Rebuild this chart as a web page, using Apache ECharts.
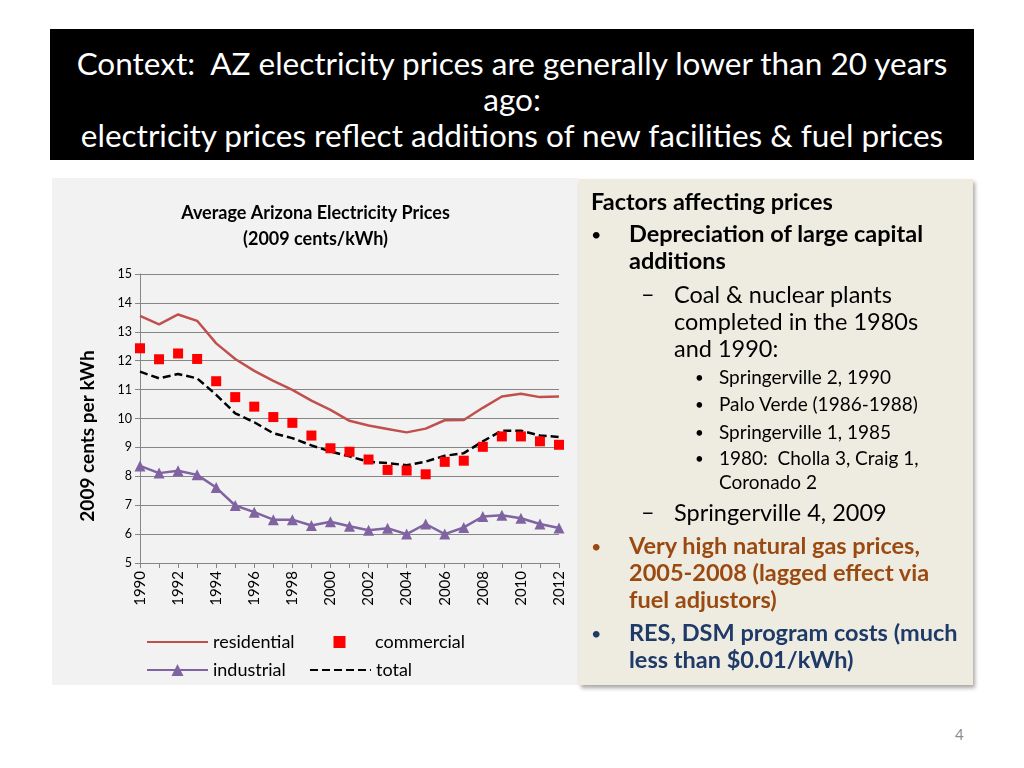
<!DOCTYPE html>
<html>
<head>
<meta charset="utf-8">
<script src="https://cdn.jsdelivr.net/npm/echarts@6/dist/echarts.min.js"></script>
<style>
  html, body { margin: 0; padding: 0; background: #fff; }
  body { width: 1024px; height: 768px; position: relative; overflow: hidden; font-family: Lato, "Open Sans", sans-serif; }
  #header {
    position: absolute; left: 50px; top: 29px; width: 924px; height: 131px;
    background: #000; color: #fff; text-align: center;
    font-size: 31.5px; line-height: 36px; box-sizing: border-box; padding-top: 16px;
  }
  #chart { position: absolute; left: 52px; top: 178px; width: 527px; height: 507px; background: #f2f2f2; }
  #panel {
    position: absolute; left: 579px; top: 179px; width: 394px; height: 506px;
    background: #eeece1; box-shadow: 2px 3px 4px rgba(0,0,0,0.35);
  }
  .t { position: absolute; white-space: nowrap; color: #000; }
  .b { font-weight: bold; }
  .big { font-size: 23.5px; line-height: 27px; }
  .small { font-size: 19px; line-height: 24px; }
  .dot { font-size: 18px; }
  .sdot { font-size: 15px; }
  .orange { color: #9a4a10; }
  .blue { color: #1f3a68; }
  #page { position: absolute; left: 955px; top: 725px; font-size: 15px; color: #8c8c8c; }
</style>
</head>
<body>
<div id="header">Context:&nbsp; AZ electricity prices are generally lower than 20 years<br>ago:<br>electricity prices reflect additions of new facilities &amp; fuel prices</div>

<div id="chart"></div>

<div id="panel"></div>
<div class="t b big" style="left:591px; top:188px;">Factors affecting prices</div>
<div class="t big" style="left:591px; top:219px;"><span class="dot">•</span></div>
<div class="t b big" style="left:629px; top:220px;">Depreciation of large capital<br>additions</div>
<div class="t big" style="left:641px; top:280px;">–</div>
<div class="t big" style="left:674px; top:281px;">Coal &amp; nuclear plants<br>completed in the 1980s<br>and 1990:</div>
<div class="t small" style="left:695px; top:364px;"><span class="sdot">•</span></div>
<div class="t small" style="left:719px; top:365px;">Springerville 2, 1990</div>
<div class="t small" style="left:695px; top:391px;"><span class="sdot">•</span></div>
<div class="t small" style="left:719px; top:392px;">Palo Verde (1986-1988)</div>
<div class="t small" style="left:695px; top:419px;"><span class="sdot">•</span></div>
<div class="t small" style="left:719px; top:420px;">Springerville 1, 1985</div>
<div class="t small" style="left:695px; top:445px;"><span class="sdot">•</span></div>
<div class="t small" style="left:719px; top:446px;">1980:&nbsp; Cholla 3, Craig 1,<br>Coronado 2</div>
<div class="t big" style="left:641px; top:498px;">–</div>
<div class="t big" style="left:674px; top:499px;">Springerville 4, 2009</div>
<div class="t big orange" style="left:591px; top:531px;"><span class="dot">•</span></div>
<div class="t b big orange" style="left:629px; top:532px;">Very high natural gas prices,<br>2005-2008 (lagged effect via<br>fuel adjustors)</div>
<div class="t big blue" style="left:591px; top:618px;"><span class="dot">•</span></div>
<div class="t b big blue" style="left:629px; top:619px;">RES, DSM program costs (much<br>less than $0.01/kWh)</div>

<div id="page">4</div>

<script>
// years on the x axis
const years = ['1990', '1991', '1992', '1993', '1994', '1995', '1996', '1997', '1998', '1999', '2000',
  '2001', '2002', '2003', '2004', '2005', '2006', '2007', '2008', '2009', '2010', '2011', '2012'];

// 2009 cents/kWh
const residential = [13.55, 13.26, 13.6, 13.38, 12.6, 12.06, 11.65, 11.3, 10.99, 10.62, 10.3,
  9.92, 9.76, 9.64, 9.52, 9.65, 9.94, 9.95, 10.37, 10.76, 10.86, 10.74, 10.76];
const commercial = [12.43, 12.05, 12.25, 12.06, 11.29, 10.74, 10.41, 10.05, 9.85, 9.41, 8.97,
  8.85, 8.58, 8.22, 8.2, 8.07, 8.5, 8.54, 9.02, 9.38, 9.38, 9.21, 9.09];
const industrial = [8.36, 8.11, 8.19, 8.05, 7.61, 6.99, 6.76, 6.5, 6.5, 6.3, 6.43,
  6.27, 6.13, 6.2, 6.0, 6.35, 6.0, 6.23, 6.61, 6.65, 6.55, 6.35, 6.21];
const total = [11.62, 11.39, 11.54, 11.39, 10.82, 10.18, 9.87, 9.49, 9.32, 9.07, 8.86,
  8.69, 8.5, 8.46, 8.38, 8.51, 8.71, 8.8, 9.21, 9.58, 9.58, 9.41, 9.36];

const FONT = 'Lato';
const chart = echarts.init(document.getElementById('chart'), null, { renderer: 'canvas' });

// one legend per entry so the two columns line up like the original
function legendAt(name, left, top, hideSymbol) {
  const item = { name: name };
  if (hideSymbol) item.itemStyle = { opacity: 0 };
  return {
    data: [item],
    left: left,
    top: top,
    itemWidth: 61,
    itemHeight: 15,
    padding: 0,
    selectedMode: false,
    textStyle: { fontFamily: FONT, fontSize: 18, color: '#000' }
  };
}

const option = {
  animation: false,
  backgroundColor: '#f2f2f2',
  title: {
    text: 'Average Arizona Electricity Prices\n(2009 cents/kWh)',
    left: 'center',
    top: 22,
    padding: 0,
    textStyle: { fontFamily: FONT, fontSize: 18, fontWeight: 'bold', color: '#000', lineHeight: 26 }
  },
  grid: { left: 88, right: 20, top: 96, bottom: 122, containLabel: false },
  legend: [
    legendAt('residential', 94, 455, true),
    legendAt('commercial', 257, 455, false),
    legendAt('industrial', 94, 483, false),
    legendAt('total', 257, 483, true)
  ],
  graphic: [
    {
      type: 'text',
      x: 36,
      y: 258,
      rotation: Math.PI / 2,
      style: {
        text: '2009 cents per kWh',
        fontFamily: FONT,
        fontSize: 19,
        fontWeight: 'bold',
        fill: '#000',
        align: 'center',
        verticalAlign: 'middle'
      }
    }
  ],
  xAxis: {
    type: 'category',
    data: years,
    boundaryGap: false,
    axisLine: { lineStyle: { color: '#868686', width: 1 } },
    axisTick: { show: true, length: 5, interval: 0, lineStyle: { color: '#868686' } },
    axisLabel: { interval: 1, rotate: 90, margin: 8, fontFamily: FONT, fontSize: 15, color: '#000' },
    splitLine: { show: false }
  },
  yAxis: {
    type: 'value',
    min: 5,
    max: 15,
    interval: 1,
    axisLine: { show: true, lineStyle: { color: '#868686', width: 1 } },
    axisTick: { show: true, length: 5, lineStyle: { color: '#868686' } },
    axisLabel: { margin: 8, fontFamily: FONT, fontSize: 12.5, color: '#000' },
    splitLine: { lineStyle: { color: '#868686', width: 1 } }
  },
  series: [
    {
      name: 'residential',
      type: 'line',
      data: residential,
      symbol: 'none',
      lineStyle: { color: '#c0504d', width: 2.5 },
      itemStyle: { color: '#c0504d' }
    },
    {
      name: 'commercial',
      type: 'line',
      data: commercial,
      symbol: 'rect',
      symbolSize: 10,
      lineStyle: { width: 0, opacity: 0 },
      itemStyle: { color: '#ff0000' }
    },
    {
      name: 'industrial',
      type: 'line',
      data: industrial,
      symbol: 'triangle',
      symbolSize: 11,
      lineStyle: { color: '#8064a2', width: 2.5 },
      itemStyle: { color: '#8064a2' }
    },
    {
      name: 'total',
      type: 'line',
      data: total,
      symbol: 'none',
      lineStyle: { color: '#000', width: 2.5, type: [8, 4] },
      itemStyle: { color: '#000' }
    }
  ]
};

chart.setOption(option);
</script>
</body>
</html>
